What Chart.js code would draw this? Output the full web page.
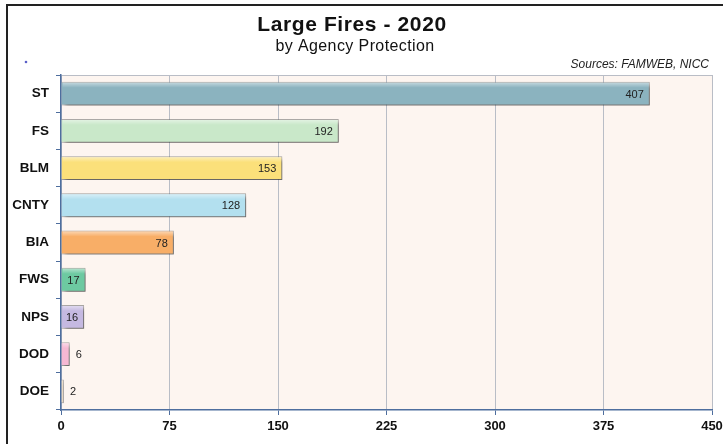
<!DOCTYPE html>
<html>
<head>
<meta charset="utf-8">
<script src="https://cdn.jsdelivr.net/npm/chart.js@4.4.0/dist/chart.umd.min.js"></script>
<style>
  html, body { margin: 0; padding: 0; background: #fff; }
  #wrap { position: relative; width: 723px; height: 444px; }
  #frame { position: absolute; left: 6px; top: 4px; right: -5px; bottom: -5px;
    border-left: 2px solid #222; border-top: 2px solid #222; pointer-events: none; }
</style>
</head>
<body>
<div id="wrap">
  <canvas id="chart" width="723" height="444"></canvas>
  <div id="frame"></div>
</div>
<script>
// agencies and fire counts
const agencies = ["ST", "FS", "BLM", "CNTY", "BIA", "FWS", "NPS", "DOD", "DOE"];
const fireCounts = [407, 192, 153, 128, 78, 17, 16, 6, 2];
const barColors = ["#8BB3BF", "#C9E8C9", "#FBE07A", "#B3E0EF", "#F8AE67", "#6DC9A1", "#C5B9E1", "#F6B8D3", "#E9D9C2"];
const xTicks = [0, 75, 150, 225, 300, 375, 450];

const titleText = "Large Fires - 2020";
const subtitleText = "by Agency Protection";
const sourceText = "Sources: FAMWEB, NICC";

const FONT = "'Liberation Sans', Arial, sans-serif";

// plot background + top border
const plotBg = {
  id: "plotBg",
  beforeDraw(chart) {
    const { ctx, chartArea: a } = chart;
    ctx.save();
    ctx.fillStyle = "#FDF5F0";
    ctx.fillRect(a.left, a.top, a.right - a.left, a.bottom - a.top);
    ctx.strokeStyle = "#B9BDC6";
    ctx.lineWidth = 1;
    ctx.beginPath();
    ctx.moveTo(a.left, a.top + 0.5);
    ctx.lineTo(a.right, a.top + 0.5);
    ctx.stroke();
    ctx.restore();
  }
};

// titles drawn as text
const headings = {
  id: "headings",
  afterDraw(chart) {
    const { ctx } = chart;
    ctx.save();
    ctx.fillStyle = "#111";
    ctx.textAlign = "center";
    ctx.textBaseline = "alphabetic";
    ctx.font = "bold 21px " + FONT;
    ctx.letterSpacing = "0.6px";
    ctx.fillText(titleText, 352, 31);
    ctx.font = "16px " + FONT;
    ctx.letterSpacing = "0.4px";
    ctx.fillText(subtitleText, 355, 51);
    ctx.letterSpacing = "0px";
    ctx.font = "italic 12px " + FONT;
    ctx.textAlign = "right";
    ctx.fillStyle = "#222";
    ctx.fillText(sourceText, 709, 68);
    // little blue dot
    ctx.fillStyle = "#5A5FC8";
    ctx.beginPath();
    ctx.arc(26, 62, 1.3, 0, Math.PI * 2);
    ctx.fill();
    ctx.restore();
  }
};

// drop shadow for bars
const barShadow = {
  id: "barShadow",
  beforeDatasetsDraw(chart) {
    const ctx = chart.ctx;
    ctx.save();
    ctx.shadowColor = "rgba(0,0,0,0.45)";
    ctx.shadowBlur = 4;
    ctx.shadowOffsetX = 3;
    ctx.shadowOffsetY = 3;
  },
  afterDatasetsDraw(chart) {
    chart.ctx.restore();
  }
};

// light top edge + value labels at bar ends
const valueLabels = {
  id: "valueLabels",
  afterDatasetsDraw(chart) {
    const { ctx } = chart;
    const meta = chart.getDatasetMeta(0);
    ctx.save();
    meta.data.forEach((bar) => {
      const top = bar.y - bar.height / 2;
      const g = ctx.createLinearGradient(0, top, 0, top + 6);
      g.addColorStop(0, "rgba(255,255,255,0.55)");
      g.addColorStop(1, "rgba(255,255,255,0)");
      ctx.fillStyle = g;
      ctx.fillRect(bar.base + 1, top + 1, bar.x - bar.base - 2, 6);
    });
    ctx.font = "11px " + FONT;
    ctx.fillStyle = "#222";
    ctx.textBaseline = "middle";
    meta.data.forEach((bar, i) => {
      const v = fireCounts[i];
      if (v < 10) {
        ctx.textAlign = "left";
        ctx.fillText(String(v), bar.x + 6, bar.y + 1);
      } else {
        ctx.textAlign = "right";
        ctx.fillText(String(v), bar.x - 6, bar.y + 1);
      }
    });
    ctx.restore();
  }
};

new Chart(document.getElementById("chart"), {
  type: "bar",
  data: {
    labels: agencies,
    datasets: [{
      data: fireCounts,
      backgroundColor: barColors,
      borderColor: "rgba(110,110,110,0.55)",
      borderWidth: 1,
      borderSkipped: "left",
      barPercentage: 0.64,
      categoryPercentage: 1
    }]
  },
  options: {
    indexAxis: "y",
    responsive: false,
    animation: false,
    layout: { padding: { top: 75, left: 8, right: 11, bottom: 4 } },
    plugins: {
      legend: { display: false },
      tooltip: { enabled: false }
    },
    scales: {
      x: {
        min: 0,
        max: 450,
        afterBuildTicks(scale) { scale.ticks = xTicks.map(v => ({ value: v })); },
        afterFit(scale) { scale.height = 30; scale.paddingRight = 0; scale.paddingLeft = 0; },
        grid: { color: "#B9BDC6", tickColor: "#4E6E9E", tickLength: 5 },
        border: { color: "#4E6E9E", width: 1.5 },
        ticks: {
          color: "#111",
          font: { family: FONT, size: 13, weight: "bold" },
          padding: 4,
          maxRotation: 0
        }
      },
      y: {
        afterFit(scale) { scale.width = 53; },
        grid: { offset: true, drawOnChartArea: false, tickColor: "#4E6E9E", tickLength: 5 },
        border: { color: "#4E6E9E", width: 1.5 },
        ticks: {
          color: "#111",
          font: { family: FONT, size: 13.5, weight: "bold" },
          padding: 7
        }
      }
    }
  },
  plugins: [plotBg, barShadow, valueLabels, headings]
});
</script>
</body>
</html>
